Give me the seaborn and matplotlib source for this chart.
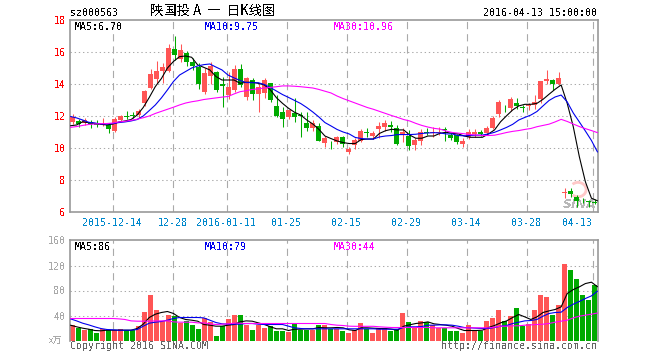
import matplotlib
matplotlib.use("Agg")
import matplotlib.pyplot as plt
from matplotlib.patches import Arc
import numpy as np
import pandas as pd
import seaborn as sns

# === DATA ===
open_ = [11.63, 11.71, 11.58, 11.61, 11.52, 11.44, 11.46, 11.06, 11.73, 12.00, 12.06, 12.06, 12.83, 13.73, 14.31, 14.81, 14.81, 16.19, 15.54, 15.92, 15.39, 15.08,
         13.52, 14.50, 14.77, 14.00, 13.31, 13.63, 14.94, 13.21, 14.25, 13.38, 13.46, 14.04, 12.63, 12.25, 11.96, 12.17, 12.06, 11.56, 11.27, 11.38, 10.33, 10.33,
         10.39, 10.67, 9.77, 10.19, 10.46, 10.98, 10.75, 11.17, 11.33, 11.42, 11.25, 10.86, 10.75, 10.19, 10.46, 11.02, 10.92, 10.96, 11.17, 10.79, 10.79, 10.27,
         10.67, 10.88, 11.00, 10.96, 11.25, 12.14, 12.52, 12.52, 12.81, 12.54, 12.61, 12.69, 13.04, 14.19, 14.25, 13.98, 7.17, 7.33, 6.94, 6.77, 6.69, 6.63]
close = [11.91, 11.48, 11.75, 11.50, 11.44, 11.50, 11.19, 11.81, 12.02, 11.96, 12.02, 12.31, 13.56, 14.61, 14.83, 15.06, 16.23, 15.81, 16.13, 15.36, 15.14, 14.00,
         14.69, 15.14, 13.63, 13.89, 13.79, 14.94, 13.94, 14.36, 13.38, 13.79, 14.25, 13.00, 12.02, 11.83, 12.38, 11.94, 12.00, 11.27, 11.54, 10.46, 10.64, 10.29,
         10.67, 10.25, 9.92, 10.50, 11.06, 10.92, 10.96, 11.38, 11.58, 11.33, 10.25, 10.98, 10.13, 10.50, 11.00, 10.96, 11.00, 11.00, 11.13, 10.64, 10.38, 10.44,
         10.98, 11.02, 10.88, 11.27, 11.88, 12.88, 12.48, 13.06, 12.63, 12.48, 12.69, 12.88, 14.19, 14.31, 13.98, 14.38, 7.27, 7.13, 6.69, 6.73, 6.61, 6.58]
high = [12.13, 11.81, 11.88, 11.77, 11.73, 11.86, 11.54, 11.96, 12.06, 12.33, 12.23, 12.44, 13.63, 14.92, 15.46, 15.29, 16.50, 17.00, 16.50, 16.08, 15.61, 15.29,
        15.00, 15.38, 14.83, 14.42, 14.77, 15.19, 15.25, 14.46, 14.36, 14.04, 14.38, 14.08, 13.31, 12.58, 12.38, 13.11, 12.25, 12.23, 11.75, 11.54, 10.75, 10.46,
        10.77, 10.75, 10.04, 10.64, 11.19, 11.23, 11.08, 11.63, 11.75, 11.69, 11.44, 11.23, 11.13, 10.64, 11.17, 11.23, 11.29, 11.33, 11.33, 10.92, 10.88, 10.61,
        11.19, 11.17, 11.13, 11.38, 12.02, 13.00, 12.69, 13.21, 13.13, 12.69, 12.83, 13.31, 14.19, 14.88, 14.31, 14.73, 7.52, 7.50, 7.04, 6.89, 6.75, 6.79]
low = [11.47, 11.33, 11.44, 11.27, 11.33, 11.39, 10.94, 11.02, 11.69, 11.81, 11.89, 11.89, 12.63, 13.67, 14.04, 14.08, 14.73, 15.50, 15.39, 15.14, 14.88, 13.67,
       13.38, 14.00, 13.52, 12.58, 13.06, 13.52, 13.83, 13.00, 13.00, 12.25, 13.14, 12.88, 11.96, 11.33, 11.79, 11.64, 10.69, 11.06, 11.08, 10.44, 10.08, 9.94,
       10.25, 10.08, 9.63, 9.94, 10.38, 10.71, 10.54, 10.64, 11.08, 11.02, 10.19, 10.39, 9.88, 9.88, 10.19, 10.81, 10.71, 10.81, 10.46, 10.50, 10.25, 10.08,
       10.54, 10.71, 10.75, 10.88, 11.19, 11.96, 12.27, 12.31, 12.42, 12.25, 12.38, 12.42, 12.83, 14.00, 13.63, 13.92, 6.89, 6.96, 6.31, 6.58, 6.33, 6.48]
ma5 = [11.39, 11.44, 11.64, 11.58, 11.54, 11.48, 11.44, 11.50, 11.63, 11.69, 11.78, 12.06, 12.53, 13.16, 13.84, 14.34, 15.00, 15.41, 15.71, 15.75, 15.67, 15.19,
       15.04, 14.88, 14.47, 14.25, 14.25, 14.25, 14.04, 14.11, 14.11, 14.04, 13.94, 13.63, 13.14, 12.79, 12.48, 12.23, 12.06, 11.75, 11.50, 11.17, 10.75, 10.59,
       10.44, 10.34, 10.28, 10.28, 10.53, 10.56, 10.56, 10.91, 11.08, 11.17, 11.13, 11.13, 10.81, 10.61, 10.61, 10.75, 10.75, 10.92, 10.98, 10.92, 10.88, 10.75,
       10.67, 10.67, 10.67, 10.88, 11.13, 11.64, 12.02, 12.38, 12.63, 12.73, 12.73, 12.79, 13.04, 13.36, 13.67, 13.94, 12.79, 11.33, 9.46, 7.89, 6.86, 6.70]
ma10 = [11.97, 11.88, 11.75, 11.61, 11.56, 11.50, 11.50, 11.53, 11.59, 11.63, 11.69, 11.78, 12.00, 12.34, 12.69, 13.13, 13.63, 14.16, 14.56, 14.78, 15.00, 15.13,
        15.21, 15.25, 15.06, 14.88, 14.56, 14.38, 14.22, 14.09, 14.08, 14.08, 13.97, 13.78, 13.56, 13.34, 13.16, 12.97, 12.78, 12.53, 12.25, 11.94, 11.59, 11.38,
        11.16, 11.00, 10.88, 10.66, 10.59, 10.56, 10.56, 10.69, 10.75, 10.78, 10.84, 10.84, 10.84, 10.86, 10.91, 10.94, 10.96, 10.94, 10.88, 10.88, 10.78, 10.76,
        10.79, 10.80, 10.81, 10.88, 10.98, 11.13, 11.29, 11.48, 11.75, 11.91, 12.06, 12.28, 12.63, 12.97, 13.19, 13.31, 12.88, 12.19, 11.63, 11.06, 10.47, 9.75]
ma30 = [11.29, 11.34, 11.41, 11.47, 11.50, 11.52, 11.53, 11.56, 11.63, 11.67, 11.73, 11.80, 11.89, 12.00, 12.16, 12.29, 12.42, 12.55, 12.69, 12.81, 12.89, 12.95,
        13.03, 13.08, 13.13, 13.18, 13.22, 13.38, 13.52, 13.58, 13.66, 13.70, 13.75, 13.79, 13.83, 13.88, 13.88, 13.86, 13.83, 13.79, 13.75, 13.66, 13.55, 13.44,
        13.25, 13.09, 12.95, 12.81, 12.67, 12.53, 12.42, 12.29, 12.16, 12.03, 11.91, 11.78, 11.69, 11.54, 11.41, 11.31, 11.23, 11.18, 11.06, 10.97, 10.93, 10.89,
        10.84, 10.81, 10.78, 10.78, 10.80, 10.88, 10.97, 11.04, 11.09, 11.16, 11.22, 11.33, 11.41, 11.49, 11.63, 11.79, 11.66, 11.50, 11.34, 11.21, 11.09, 10.96]
vol = [25.6, 19.7, 16.5, 19.2, 11.7, 18.0, 16.5, 17.6, 18.0, 16.5, 16.5, 22.9, 45.3, 72.5, 48.5, 31.5, 40.5, 38.9, 28.2, 31.5, 24.5, 18.0,
       36.8, 29.9, 6.9, 22.9, 34.1, 40.5, 40.5, 24.5, 16.5, 24.5, 19.7, 22.9, 14.9, 14.9, 13.9, 26.1, 17.6, 17.6, 17.6, 24.5, 24.5, 19.2,
       19.2, 14.9, 11.7, 16.5, 27.7, 19.2, 11.7, 19.7, 20.8, 14.9, 19.2, 43.7, 29.3, 21.3, 30.9, 29.6, 24.5, 20.3, 20.3, 14.9, 14.9, 11.7,
       24.5, 14.9, 15.5, 30.9, 35.7, 48.5, 30.9, 39.4, 51.7, 23.5, 26.1, 48.5, 72.5, 69.3, 40.5, 56.5, 122.0, 112.5, 98.0, 72.5, 64.5, 88.5]
vol_ma5 = [24.5, 21.9, 19.7, 18.1, 16.0, 15.5, 16.5, 16.5, 16.5, 16.5, 16.5, 19.2, 26.1, 36.8, 42.1, 44.8, 46.4, 43.2, 36.8, 33.6, 32.5, 30.9,
           25.6, 24.5, 22.9, 22.9, 24.5, 25.6, 29.8, 31.4, 30.9, 28.2, 25.6, 21.9, 18.7, 18.7, 16.0, 18.1, 18.1, 18.7, 18.7, 20.8, 20.3, 20.3,
           20.8, 20.3, 17.1, 16.0, 20.3, 20.3, 19.7, 19.2, 19.2, 18.1, 16.5, 22.9, 25.1, 27.2, 28.2, 29.8, 26.7, 25.6, 24.5, 22.9, 19.2, 16.0,
           16.0, 16.0, 16.5, 20.8, 24.0, 28.2, 31.4, 36.8, 41.6, 37.8, 33.6, 37.8, 44.8, 47.4, 49.6, 53.8, 75.2, 81.5, 85.8, 91.1, 93.3, 86.0]
vol_ma10 = [34.6, 31.4, 27.7, 25.0, 21.9, 19.2, 17.6, 17.1, 16.5, 16.5, 16.5, 17.6, 22.9, 27.7, 29.3, 30.4, 32.5, 35.2, 36.8, 36.8, 36.8, 36.8,
            36.2, 32.5, 28.8, 26.7, 26.1, 26.1, 26.1, 27.2, 27.2, 26.1, 25.6, 25.6, 25.6, 25.6, 22.9, 20.3, 19.2, 18.7, 18.7, 18.7, 18.7, 18.7,
            18.7, 18.7, 18.7, 18.7, 18.7, 18.7, 18.7, 18.1, 18.1, 18.1, 18.1, 20.8, 21.9, 21.9, 22.4, 24.5, 24.5, 25.0, 25.0, 24.5, 22.9, 20.8,
            20.3, 19.7, 19.2, 19.2, 20.8, 22.9, 24.0, 27.2, 29.3, 31.4, 32.0, 33.6, 38.9, 43.2, 44.8, 45.3, 52.8, 58.1, 62.4, 67.2, 71.4, 79.0]
vol_ma30 = [35.2, 35.2, 35.2, 35.2, 35.2, 35.2, 35.2, 35.2, 34.6, 33.6, 31.4, 30.9, 30.9, 30.9, 31.4, 31.4, 31.4, 29.8, 29.3, 29.3, 29.3, 28.2,
            28.2, 26.7, 25.6, 26.1, 26.7, 27.7, 27.7, 27.2, 27.2, 27.2, 27.2, 27.2, 27.2, 27.2, 27.2, 27.2, 27.2, 27.2, 27.2, 27.2, 27.2, 25.6,
            24.5, 24.0, 22.9, 22.7, 22.7, 22.7, 22.7, 21.9, 21.3, 20.8, 20.8, 20.8, 20.8, 20.8, 20.8, 20.8, 20.3, 20.3, 20.3, 20.3, 20.3, 20.3,
            20.3, 20.3, 20.3, 20.3, 21.3, 22.9, 22.9, 23.5, 23.5, 24.5, 25.0, 25.6, 26.1, 27.2, 29.3, 30.9, 32.5, 36.2, 38.9, 40.5, 42.1, 44.0]
tick_idx = [7, 17, 26, 36, 46, 56, 66, 76, 87]
tick_labels = ["2015-12-14", "12-28", "2016-01-11", "01-25", "02-15", "02-29", "03-14", "03-28", "04-13"]
price_ticks = [6, 8, 10, 12, 14, 16, 18]
vol_ticks = [40, 80, 120, 160]

# === STYLE ===
sns.set_theme(style="white")
plt.rcParams["font.family"] = ["DejaVu Sans Mono"]
plt.rcParams["text.antialiased"] = False

RED, GREEN, GRID = "#ff5555", "#00aa00", "#aaaaaa"
LINES = [("black", "#000000"), ("blue", "#0000ee"), ("magenta", "#ff00ff")]
FS = 7.2

df = pd.DataFrame({"i": np.arange(len(close)), "open": open_, "close": close, "high": high, "low": low, "vol": vol,
                   "ma5": ma5, "ma10": ma10, "ma30": ma30, "vol_ma5": vol_ma5, "vol_ma10": vol_ma10, "vol_ma30": vol_ma30})
df["dir"] = np.where(df["close"] >= df["open"], "up", "down")
df["line_x"] = np.linspace(-0.33, 87.5, len(df))
df["color"] = df["dir"].map({"up": RED, "down": GREEN})

W, H = 660, 360
fig = plt.figure(figsize=(W / 100, H / 100), dpi=100, facecolor="white")
ax = fig.add_axes([70 / W, 1 - 212 / H, 527.5 / W, 192 / H])
ax2 = fig.add_axes([70 / W, 1 - 340.5 / H, 527.5 / W, 100.5 / H])

# === VELAS ===
ax.vlines(df["i"], df["low"], df["high"], colors=df["color"].tolist(), linewidth=0.75, zorder=2)
ax.bar(df["i"], (df["close"] - df["open"]).abs(), bottom=df[["open", "close"]].min(axis=1), width=0.88,
       color=df["color"], linewidth=0, zorder=3)

# === VOLUMEN ===
sns.barplot(data=df, x="i", y="vol", hue="dir", palette={"up": RED, "down": GREEN}, native_scale=True, dodge=False,
            width=0.88, saturation=1, errorbar=None, legend=False, linewidth=0, ax=ax2, zorder=2)

# === MEDIAS ===
for name, a in [("ma", ax), ("vol_ma", ax2)]:
    for n, (_, c) in zip([5, 10, 30], LINES):
        sns.lineplot(data=df, x="line_x", y=f"{name}{n}", color=c, linewidth=0.8, errorbar=None, ax=a, zorder=4)

# === EJES ===
grid_x = [t - 0.3 for t in tick_idx]
for a in (ax, ax2):
    a.set_xlim(-0.417, 87.5)
    a.set_xlabel("")
    a.set_ylabel("")
    for x in grid_x:
        a.axvline(x, color=GRID, linewidth=0.8, linestyle=(0, (6.5, 4.5)), zorder=1)
    for s in a.spines.values():
        s.set_color("#999999")
        s.set_linewidth(1.2)
    a.tick_params(length=0, pad=3)

ax.set_ylim(6, 18)
ax.set_yticks(price_ticks)
ax.set_yticklabels(price_ticks, color="#ff0000", fontsize=FS)
for v in price_ticks[1:-1]:
    ax.axhline(v, color=GRID, linewidth=0.75, linestyle=(0, (1.3, 2.7)), zorder=1)
ax.set_xticks(grid_x)
ax.set_xticklabels(tick_labels, color="#0088cc", fontsize=FS)
ax.get_xticklabels()[-1].set_ha("right")
ax.tick_params(axis="x", pad=4)

ax2.set_ylim(0, 160.8)
ax2.set_yticks(vol_ticks)
ax2.set_yticklabels(vol_ticks, color="#aaaaaa", fontsize=FS)
for v in vol_ticks[:-1]:
    ax2.axhline(v, color=GRID, linewidth=0.75, linestyle=(0, (1.3, 2.7)), zorder=1)
ax2.set_xticks([])
ax2.spines["bottom"].set_visible(False)

# === MARCA DE AGUA ===
ax.add_patch(Arc((84.25, 7.4), 2.7, 0.9, theta1=200, theta2=520, color="#ffc8c8", linewidth=2, zorder=1))
ax.text(87.4, 6.5, "SINA", color="#b8b8b8", fontsize=9, fontweight="bold", style="italic", ha="right", va="center",
        family="DejaVu Sans", zorder=1)

# === TEXTOS ===
def px_text(x, y, s, color="#000000", ha="left", size=FS, **kw):
    fig.text(x / W, 1 - y / H, s, color=color, ha=ha, va="center", fontsize=size, **kw)

px_text(70, 13, "sz000563")
px_text(597, 13, "2016-04-13 15:00:00", ha="right")
px_text(150, 11, "陕国投 A  一  日K线图", size=9.6, family=["Noto Sans CJK SC", "DejaVu Sans"])
for y, vals in [(27, ["MA5:6.70", "MA10:9.75", "MA30:10.96"]), (247, ["MA5:86", "MA10:79", "MA30:44"])]:
    for x, s, (_, c) in zip([75, 205, 334], vals, LINES):
        px_text(x, y, s, color=c)
px_text(49, 341, "x万", color="#aaaaaa", size=6.5, family=["Noto Sans CJK SC", "DejaVu Sans"])
px_text(70, 346, "Copyright 2016 SINA.COM", color="#666666")
px_text(597, 346, "http://finance.sina.com.cn", color="#666666", ha="right")

fig.savefig("out.png", dpi=100)
